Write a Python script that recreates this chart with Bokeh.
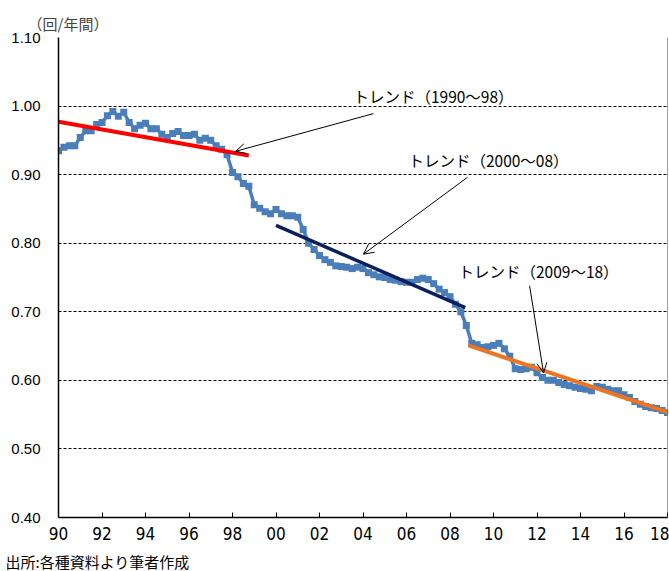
import numpy as np
from bokeh.plotting import figure
from bokeh.layouts import column
from bokeh.models import (FixedTicker, NumeralTickFormatter, Label, Arrow, OpenHead,
                          Span, Range1d, Title)
from bokeh.embed import file_html
from bokeh.resources import INLINE

# ---- data (quarterly) ----
start_year = 1990
turnover = [
    0.935, 0.940, 0.942, 0.942,   # 1990
    0.954, 0.964, 0.964, 0.973,   # 1991
    0.976, 0.986, 0.992, 0.985,   # 1992
    0.991, 0.976, 0.967, 0.972,   # 1993
    0.975, 0.967, 0.967, 0.959,   # 1994
    0.954, 0.960, 0.963, 0.957,   # 1995
    0.957, 0.959, 0.950, 0.953,   # 1996
    0.950, 0.942, 0.937, 0.929,   # 1997
    0.903, 0.897, 0.887, 0.883,   # 1998
    0.856, 0.851, 0.846, 0.843,   # 1999
    0.849, 0.843, 0.840, 0.840,   # 2000
    0.838, 0.820, 0.800, 0.791,   # 2001
    0.782, 0.776, 0.772, 0.767,   # 2002
    0.766, 0.765, 0.763, 0.765,   # 2003
    0.763, 0.757, 0.754, 0.751,   # 2004
    0.750, 0.747, 0.746, 0.744,   # 2005
    0.743, 0.743, 0.747, 0.749,   # 2006
    0.747, 0.741, 0.733, 0.728,   # 2007
    0.722, 0.711, 0.700, 0.680,   # 2008
    0.654, 0.652, 0.648, 0.649,   # 2009
    0.651, 0.654, 0.646, 0.635,   # 2010
    0.617, 0.616, 0.617, 0.619,   # 2011
    0.611, 0.604, 0.600, 0.600,   # 2012
    0.597, 0.594, 0.592, 0.590,   # 2013
    0.588, 0.587, 0.585, 0.591,   # 2014
    0.590, 0.587, 0.585, 0.585,   # 2015
    0.579, 0.575, 0.569, 0.565,   # 2016
    0.562, 0.560, 0.559, 0.556,   # 2017
    0.553,                        # 2018
]
dates = [start_year + i / 4 for i in range(len(turnover))]

trend_9098_x = [1990.0, 1998.75]
trend_9098_y = [0.977, 0.928]
trend_0008_x = [2000.0, 2008.7]
trend_0008_y = [0.826, 0.706]
trend_0918_x = [2008.85, 2018.05]
trend_0918_y = [0.651, 0.553]

x_ticks = list(range(1990, 2019, 2))
x_labels = ["%02d" % (t % 100) for t in x_ticks]
y_ticks = [0.4, 0.5, 0.6, 0.7, 0.8, 0.9, 1.0, 1.1]

unit_text = "（回/年間）"
source_text = "出所:各種資料より筆者作成"

JP = "Noto Sans CJK JP"

p = figure(width=669, height=546, output_backend="svg", toolbar_location=None,
           x_range=Range1d(1990, 2018), y_range=Range1d(0.4, 1.1),
           min_border_left=58, min_border_right=2, min_border_top=37,
           min_border_bottom=29)
p.outline_line_color = None
p.background_fill_color = "white"
p.border_fill_color = "white"

# unit title above the plot
p.title.text = unit_text
p.title.align = "left"
p.title.offset = -31
p.title.text_font = JP
p.title.text_font_size = "15px"
p.title.text_font_style = "normal"
p.title.standoff = 8

# axes
xa = p.xaxis[0]
xa.ticker = FixedTicker(ticks=x_ticks)
xa.major_label_overrides = {t: l for t, l in zip(x_ticks, x_labels)}
xa.major_tick_in = 5
xa.major_tick_out = 0
xa.minor_tick_line_color = None
xa.axis_line_color = "black"
xa.axis_line_width = 1.5
xa.major_tick_line_color = "black"
xa.major_label_text_font = "Liberation Sans Narrow, DejaVu Sans Condensed, sans-serif"
xa.major_label_text_font_size = "17px"
xa.major_label_text_color = "black"
xa.major_label_standoff = 9

ya = p.yaxis[0]
ya.ticker = FixedTicker(ticks=y_ticks)
ya.formatter = NumeralTickFormatter(format="0.00")
ya.major_tick_in = 0
ya.major_tick_out = 0
ya.minor_tick_line_color = None
ya.axis_line_color = "black"
ya.axis_line_width = 1.5
ya.major_label_text_font = "Liberation Sans"
ya.major_label_text_font_size = "15px"
ya.major_label_text_color = "black"
ya.major_label_standoff = 18

p.xgrid.grid_line_color = None
p.ygrid.grid_line_color = "black"
p.ygrid.grid_line_dash = "3 2"
p.ygrid.grid_line_width = 1

p.add_layout(Span(location=2018, dimension="height", line_color="#404040", line_width=1))

# series
blue = "#4A7EBB"
p.line(dates, turnover, line_color=blue, line_width=3.5)
p.scatter(dates, turnover, marker="square", size=7, fill_color=blue, line_color=None)

p.line(trend_9098_x, trend_9098_y, line_color="#FF0000", line_width=4)
p.line(trend_0008_x, trend_0008_y, line_color="#0B1F5A", line_width=3.5)
p.line(trend_0918_x, trend_0918_y, line_color="#EE7420", line_width=4)

# annotations
annots = [
    ("トレンド（1990～98）", 2003.56, 1.014, 2004.48, 0.989, 1998.14, 0.934),
    ("トレンド（2000～08）", 2006.09, 0.922, 2008.80, 0.896, 2004.02, 0.784),
    ("トレンド（2009～18）", 2008.39, 0.760, 2011.66, 0.738, 2012.30, 0.611),
]
for txt, tx, ty, xs, ys, xe, ye in annots:
    p.add_layout(Label(x=tx, y=ty, text=txt, text_font=JP, text_font_size="15.5px",
                       text_baseline="middle", text_color="black"))
    p.add_layout(Arrow(end=OpenHead(size=10, line_width=1, line_color="black"),
                       x_start=xs, y_start=ys, x_end=xe, y_end=ye,
                       line_width=1, line_color="black"))

# footer strip carrying the source note as a title below its (empty) frame
f = figure(width=669, height=25, output_backend="svg", toolbar_location=None,
           x_range=Range1d(0, 1), y_range=Range1d(0, 1),
           x_axis_location=None, y_axis_location=None,
           min_border_left=58, min_border_right=2, min_border_top=0,
           min_border_bottom=0)
f.grid.grid_line_color = None
f.outline_line_color = None
f.background_fill_color = "white"
f.border_fill_color = "white"
f.add_layout(Title(text=source_text, align="left", offset=-53, standoff=0,
                   text_font=JP, text_font_size="15px", text_font_style="normal",
                   text_color="black"), "below")

layout = column(p, f, spacing=0)
open("out.html", "w").write(file_html(layout, INLINE))
